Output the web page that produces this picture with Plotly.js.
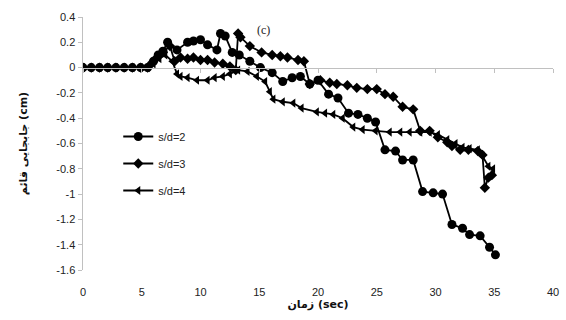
<!DOCTYPE html>
<html>
<head>
<meta charset="utf-8">
<script src="https://cdn.plot.ly/plotly-3.0.1.min.js"></script>
<style>html,body{margin:0;padding:0;background:#fff;}#chart{width:566px;height:320px;}</style>
</head>
<body>
<div id="chart"></div>
<script>
// s/d = 2 (circles)
const x2 = [0,0.7,1.4,2.1,2.8,3.5,4.2,4.9,5.5,6.0,6.4,6.8,7.2,8.0,8.9,9.4,10.0,10.6,11.4,11.7,12.1,12.7,13.3,14.2,15.1,16.1,17.0,17.8,18.5,19.3,20.0,20.9,21.7,22.6,23.4,24.2,24.9,25.7,26.6,27.2,28.1,28.9,29.8,30.6,31.4,32.3,32.9,33.8,34.6,35.1];
const y2 = [0,0,0,0,0,0,0,0,0,0.05,0.1,0.13,0.2,0.14,0.2,0.21,0.22,0.18,0.14,0.27,0.25,0.12,0.1,0.05,0.0,-0.04,-0.11,-0.08,-0.07,-0.13,-0.1,-0.21,-0.24,-0.36,-0.37,-0.4,-0.43,-0.65,-0.66,-0.73,-0.73,-0.98,-0.99,-1.0,-1.24,-1.27,-1.32,-1.33,-1.42,-1.48];
// s/d = 3 (diamonds)
const x3 = [0,0.7,1.4,2.1,2.8,3.5,4.2,4.9,5.5,5.9,6.3,6.8,7.4,7.8,8.3,8.9,9.4,10.0,10.6,11.2,11.9,12.5,13.0,13.2,13.4,14.2,15.2,16.1,16.8,17.4,18.3,18.8,19.3,20.2,21.0,21.6,22.5,23.3,24.2,25.0,25.7,26.4,27.2,28.1,28.7,29.5,30.2,31.0,31.4,32.1,32.8,33.6,34.0,34.2,34.5,34.8];
const y3 = [0,0,0,0,0,0,0,0,0,0.04,0.08,0.12,0.17,0.05,0.08,0.07,0.08,0.06,0.06,0.04,0.03,0.01,-0.02,0.27,0.24,0.17,0.12,0.1,0.09,0.08,0.06,0.05,-0.13,-0.1,-0.12,-0.13,-0.14,-0.16,-0.17,-0.17,-0.21,-0.23,-0.31,-0.33,-0.5,-0.5,-0.55,-0.59,-0.62,-0.65,-0.65,-0.66,-0.69,-0.95,-0.87,-0.85];
// s/d = 4 (left triangles)
const x4 = [0,0.7,1.4,2.1,2.8,3.5,4.2,4.9,5.5,6.0,6.5,7.0,7.6,8.0,8.3,8.9,9.7,10.6,11.2,11.9,12.5,13.2,14.0,14.8,15.5,15.9,16.2,17.0,17.9,18.6,19.9,20.6,21.3,22.1,23.0,23.8,24.9,26.1,27.0,27.8,28.7,29.5,30.2,31.0,31.7,32.3,32.9,33.6,34.0,34.5,34.9];
const y4 = [0,0,0,0,0,0,0,0,0,0.03,0.07,0.1,0.05,-0.05,-0.07,-0.08,-0.1,-0.1,-0.08,-0.07,-0.05,-0.02,-0.03,-0.07,-0.11,-0.19,-0.25,-0.27,-0.28,-0.32,-0.35,-0.36,-0.37,-0.4,-0.47,-0.49,-0.5,-0.51,-0.51,-0.51,-0.51,-0.51,-0.53,-0.57,-0.6,-0.63,-0.64,-0.65,-0.7,-0.78,-0.8];

const names = ['s/d=2','s/d=3','s/d=4'];
const xTicks = [0,5,10,15,20,25,30,35,40];
const yTicks = [0.4,0.2,0,-0.2,-0.4,-0.6,-0.8,-1,-1.2,-1.4,-1.6];
const yTickText = ['0.4','0.2','0','-0.2','-0.4','-0.6','-0.8','-1','-1.2','-1.4','-1.6'];

const lineStyle = {color:'#000', width:1.8};
const traces = [
  {x:x2, y:y2, name:names[0], mode:'lines+markers', line:lineStyle, marker:{symbol:'circle', size:9, color:'#000'}, legendgroup:'a'},
  {x:x3, y:y3, name:names[1], mode:'lines+markers', line:lineStyle, marker:{symbol:'diamond', size:8, color:'#000'}, legendgroup:'b'},
  {x:x4, y:y4, name:names[2], mode:'lines+markers', line:lineStyle, marker:{symbol:'triangle-left', size:8, color:'#000'}, legendgroup:'c'},
  {x:[], y:[], xaxis:'x2', yaxis:'y', showlegend:false, hoverinfo:'skip'}
];

const tickFont = {family:'Liberation Sans, Arial, sans-serif', size:11, color:'#222'};
const layout = {
  width:566, height:320,
  margin:{l:83, r:13, t:17, b:50},
  paper_bgcolor:'#fff', plot_bgcolor:'#fff',
  showlegend:true,
  legend:{x:0.075, y:0.585, xanchor:'left', yanchor:'top', bgcolor:'rgba(0,0,0,0)',
          font:{family:'Liberation Sans, Arial, sans-serif', size:11, color:'#222'},
          traceorder:'grouped', tracegroupgap:8, itemwidth:30},
  xaxis:{range:[0,40], tickvals:xTicks, ticktext:xTicks.map(String), showline:false, showgrid:false, zeroline:false,
         ticks:'', tickfont:tickFont, ticklabelstandoff:14,
         title:{text:'زمان (sec)', font:{family:'DejaVu Sans, sans-serif', size:11, color:'#111', weight:'bold'}, standoff:3}},
  xaxis2:{range:[0,40], overlaying:'x', anchor:'free', position:0.8, showline:true, linecolor:'#c0c0c0', linewidth:1.5,
          ticks:'outside', ticklen:4, tickcolor:'#c0c0c0', tickvals:xTicks, showticklabels:false, showgrid:false, zeroline:false},
  yaxis:{range:[-1.6,0.4], tickvals:yTicks, ticktext:yTickText, showline:true, linecolor:'#c0c0c0', linewidth:1.5,
         ticks:'outside', ticklen:4, tickcolor:'#c0c0c0', showgrid:false, zeroline:false, tickfont:tickFont,
         title:{text:'جابجایی قائم (cm)', font:{family:'DejaVu Sans, sans-serif', size:11, color:'#111', weight:'bold'}, standoff:26}},
  annotations:[{text:'(c)', xref:'paper', yref:'paper', x:0.383, y:0.985, showarrow:false,
                font:{family:'Liberation Serif, serif', size:12, color:'#222'}}]
};
Plotly.newPlot('chart', traces, layout, {displayModeBar:false, staticPlot:true});
</script>
</body>
</html>
